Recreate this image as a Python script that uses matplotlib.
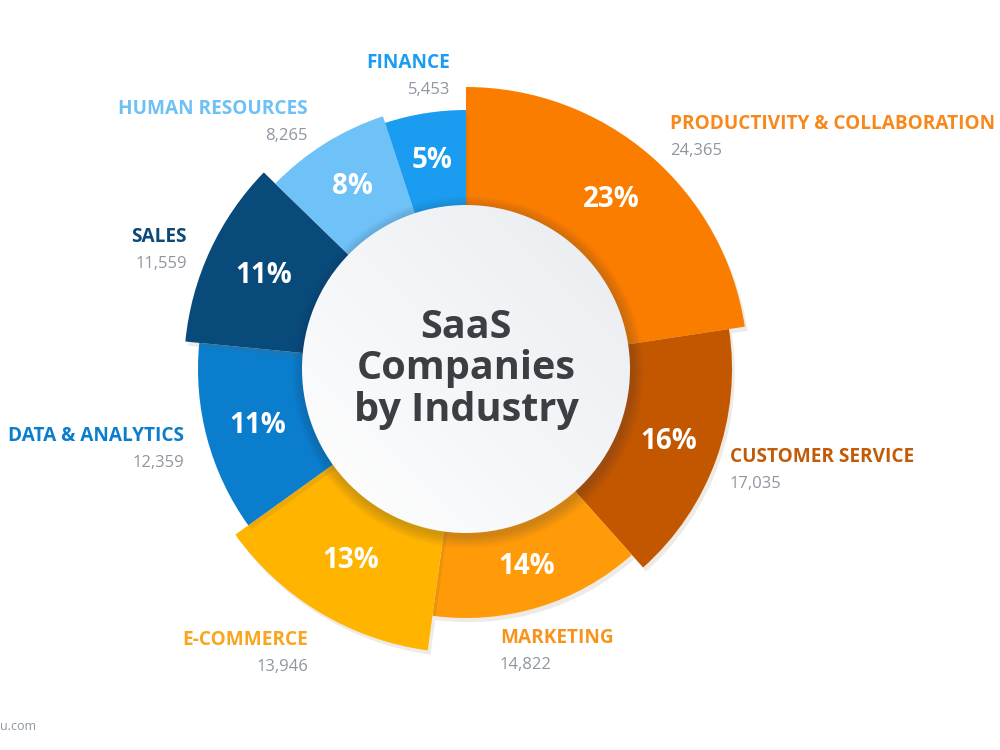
import numpy as np
import matplotlib.pyplot as plt
from matplotlib.patches import Wedge, Circle
import matplotlib.patheffects as pe

plt.rcParams['font.family'] = ['Open Sans', 'DejaVu Sans']

# data
industries = ['PRODUCTIVITY & COLLABORATION', 'CUSTOMER SERVICE', 'MARKETING', 'E-COMMERCE',
              'DATA & ANALYTICS', 'SALES', 'HUMAN RESOURCES', 'FINANCE']
companies = [24365, 17035, 14822, 13946, 12359, 11559, 8265, 5453]

# styling
wedge_colors = ['#FB7D00', '#C25700', '#FF9A08', '#FFB400', '#0B7DCD', '#084B7B', '#6EC2F8', '#1A9CF0']
label_colors = ['#F7891C', '#C25A06', '#F7941E', '#F9A51E', '#0B7DCD', '#0B4A78', '#6EC1F5', '#1A9CF0']
outer_r = [282, 266, 249, 284, 268, 282, 266, 259]
inner_r = 164
# label anchors in pixel space (x, y of name line, alignment)
label_pos = [(670, 124, 'left'), (730, 457, 'left'), (500, 638, 'left'), (308, 640, 'right'),
             (184, 436, 'right'), (187, 237, 'right'), (308, 109, 'right'), (450, 63, 'right')]
cx, cy = 466, 369

fig = plt.figure(figsize=(10, 7.5), dpi=100)
ax = fig.add_axes([0, 0, 1, 1])
ax.set_xlim(-cx, 1000 - cx)
ax.set_ylim(-(750 - cy), cy)
ax.set_aspect('equal')
ax.axis('off')

total = sum(companies)
start = 0.0
for i, v in enumerate(companies):
    sweep = v / total * 360
    a1, a2 = start, start + sweep
    w = Wedge((0, 0), outer_r[i], 90 - a2, 90 - a1, width=outer_r[i] - 140,
              facecolor=wedge_colors[i], edgecolor='none', zorder=2)
    w.set_path_effects([pe.SimplePatchShadow(offset=(2, -3), shadow_rgbFace='#7a5a30', alpha=0.12),
                        pe.Normal()])
    ax.add_patch(w)
    mid = np.deg2rad(90 - (a1 + a2) / 2)
    rm = (inner_r + outer_r[i]) / 2
    ax.text(rm * np.cos(mid), rm * np.sin(mid), f"{round(v / total * 100)}%",
            ha='center', va='center', color='white', fontsize=20, fontweight='bold', zorder=5)
    lx, ly, ha = label_pos[i]
    ax.text(lx - cx, cy - ly, industries[i], ha=ha, va='center', color=label_colors[i],
            fontsize=13.7, fontweight='bold', zorder=5)
    ax.text(lx - cx, cy - ly - 27, f"{v:,}", ha=ha, va='center', color='#8E96A0',
            fontsize=12, zorder=5)
    start = a2

# soft shadow of the centre disc
for k in range(12):
    ax.add_patch(Circle((2, -3), inner_r + 12 - k, facecolor='#3a4050', alpha=0.018,
                        edgecolor='none', zorder=3))
disc = Circle((0, 0), inner_r, facecolor='none', edgecolor='none', zorder=4)
ax.add_patch(disc)
grad = np.linspace(0, 1, 256)
gx, gy = np.meshgrid(grad, grad)
g = (gx + (1 - gy)) / 2
img = ax.imshow(g, extent=(-inner_r, inner_r, -inner_r, inner_r), origin='upper',
                cmap=plt.matplotlib.colors.LinearSegmentedColormap.from_list('d', ['#FFFFFF', '#E9ECF0']),
                zorder=4)
img.set_clip_path(disc)

ax.text(0, 0, 'SaaS\nCompanies\nby Industry', ha='center', va='center', color='#3B3E43',
        fontsize=28.5, fontweight='bold', linespacing=1.07, zorder=6)

ax.text(-cx, cy - 727, 'u.com', ha='left', va='center', color='#8E96A0', fontsize=9)

fig.savefig('out.png', dpi=100)
